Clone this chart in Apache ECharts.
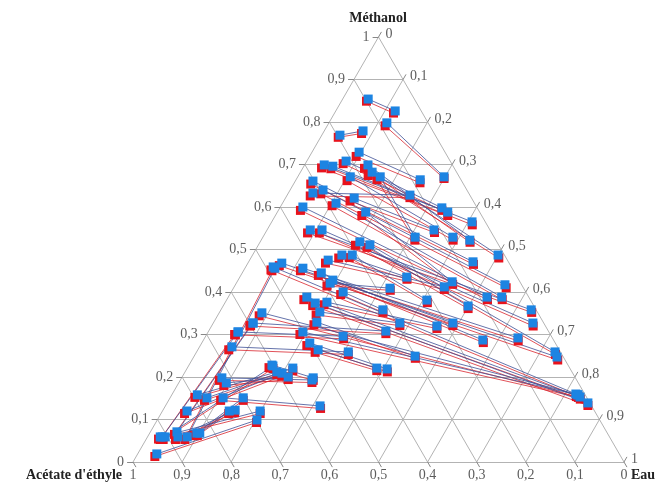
<!DOCTYPE html>
<html><head><meta charset="utf-8">
<script src="https://cdn.jsdelivr.net/npm/echarts/dist/echarts.min.js"></script>
<style>html,body{margin:0;padding:0;background:#fff}#c{width:658px;height:489px}</style>
</head><body><div id="c"></div>
<script>
// Ternary values: [Méthanol, Eau] (Acétate d'éthyle = 1 - Méthanol - Eau)
const tickValues = [0,0.1,0.2,0.3,0.4,0.5,0.6,0.7,0.8,0.9,1];
const tickLabels = ['0','0,1','0,2','0,3','0,4','0,5','0,6','0,7','0,8','0,9','1'];
const axisNames = ['Méthanol', "Acétate d'éthyle", 'Eau'];

// calculated (blue) – organic-end and aqueous-end of each tie line
const calcOrg = [
[0.854,0.052],[0.769,0.037],[0.798,0.118],[0.729,0.096],[0.708,0.080],[0.699,0.040],[0.696,0.059],[0.699,0.129],
[0.682,0.146],[0.671,0.107],[0.661,0.036],[0.640,0.067],[0.600,0.046],[0.609,0.109],[0.621,0.140],[0.588,0.180],
[0.546,0.088],[0.546,0.112],[0.518,0.203],[0.511,0.227],[0.468,0.069],[0.459,0.056],[0.456,0.118],[0.445,0.161],
[0.475,0.160],[0.487,0.182],[0.487,0.203],[0.428,0.193],[0.388,0.160],[0.374,0.184],[0.376,0.207],[0.353,0.204],
[0.329,0.210],[0.400,0.228],[0.421,0.191],[0.306,0.193],[0.280,0.220],[0.264,0.245],[0.351,0.087],[0.327,0.081],
[0.306,0.061],[0.271,0.066],[0.228,0.169],[0.633,0.050],[0.671,0.168],[0.019,0.039],[0.059,0.030],[0.071,0.054],
[0.059,0.081],[0.068,0.096],[0.120,0.050],[0.158,0.052],[0.151,0.075],[0.151,0.108],[0.198,0.082],[0.186,0.097],
[0.059,0.036],[0.059,0.026],[0.059,0.062],[0.068,0.102]
];
const calcAq = [
[0.826,0.121],[0.779,0.079],[0.671,0.298],[0.664,0.253],[0.598,0.330],[0.588,0.347],[0.565,0.408],[0.522,0.425],
[0.487,0.500],[0.529,0.387],[0.471,0.457],[0.417,0.549],[0.388,0.527],[0.388,0.557],[0.546,0.340],[0.424,0.438],
[0.358,0.632],[0.327,0.651],[0.367,0.499],[0.259,0.730],[0.247,0.740],[0.158,0.827],[0.292,0.638],[0.287,0.569],
[0.412,0.428],[0.435,0.340],[0.381,0.408],[0.327,0.488],[0.153,0.834],[0.139,0.857],[0.320,0.459],[0.327,0.380],
[0.249,0.450],[0.358,0.330],[0.409,0.319],[0.158,0.827],[0.219,0.408],[0.221,0.386],[0.160,0.822],[0.308,0.361],
[0.296,0.280],[0.259,0.309],[0.198,0.268],[0.628,0.250],[0.529,0.310],[0.099,0.203],[0.306,0.061],[0.327,0.081],
[0.456,0.061],[0.151,0.149],[0.209,0.199],[0.212,0.187],[0.221,0.215],[0.132,0.315],[0.193,0.268],[0.200,0.216],
[0.226,0.172],[0.120,0.199],[0.122,0.147],[0.120,0.136]
];
// experimental (red)
const expOrg = [
[0.849,0.051],[0.764,0.036],[0.791,0.118],[0.719,0.095],[0.702,0.077],[0.692,0.038],[0.690,0.058],[0.691,0.126],
[0.674,0.142],[0.662,0.105],[0.654,0.035],[0.631,0.067],[0.592,0.045],[0.603,0.104],[0.614,0.135],[0.580,0.176],
[0.539,0.086],[0.539,0.110],[0.510,0.198],[0.505,0.224],[0.462,0.067],[0.452,0.055],[0.450,0.116],[0.439,0.158],
[0.468,0.158],[0.480,0.179],[0.481,0.200],[0.422,0.190],[0.382,0.157],[0.368,0.182],[0.370,0.204],[0.346,0.200],
[0.323,0.207],[0.394,0.226],[0.414,0.188],[0.300,0.190],[0.274,0.217],[0.258,0.242],[0.344,0.085],[0.320,0.078],
[0.299,0.059],[0.264,0.063],[0.222,0.166],[0.626,0.048],[0.664,0.165],[0.013,0.038],[0.053,0.029],[0.065,0.052],
[0.053,0.079],[0.062,0.094],[0.114,0.048],[0.152,0.050],[0.145,0.073],[0.145,0.106],[0.192,0.080],[0.180,0.095],
[0.053,0.035],[0.054,0.025],[0.053,0.060],[0.062,0.100]
];
const expAq = [
[0.821,0.120],[0.773,0.079],[0.667,0.300],[0.657,0.256],[0.592,0.333],[0.580,0.351],[0.558,0.412],[0.517,0.428],
[0.480,0.505],[0.522,0.391],[0.465,0.461],[0.410,0.555],[0.382,0.531],[0.382,0.561],[0.540,0.344],[0.418,0.442],
[0.352,0.636],[0.320,0.655],[0.361,0.502],[0.253,0.734],[0.240,0.745],[0.153,0.831],[0.285,0.642],[0.281,0.573],
[0.406,0.431],[0.430,0.343],[0.375,0.412],[0.321,0.491],[0.148,0.837],[0.133,0.860],[0.314,0.462],[0.321,0.383],
[0.244,0.453],[0.352,0.333],[0.404,0.322],[0.152,0.831],[0.212,0.412],[0.215,0.389],[0.154,0.826],[0.302,0.364],
[0.290,0.284],[0.253,0.312],[0.192,0.271],[0.622,0.253],[0.522,0.313],[0.093,0.205],[0.300,0.057],[0.321,0.079],
[0.450,0.058],[0.145,0.152],[0.202,0.202],[0.206,0.190],[0.215,0.218],[0.126,0.319],[0.187,0.271],[0.194,0.219],
[0.220,0.175],[0.114,0.202],[0.116,0.149],[0.114,0.138]
];

function tern(m, w) { return [w + m / 2, m]; }

const gridLines = [];
tickValues.forEach(v => {
  gridLines.push({coords: [tern(v, 0), tern(v, 1 - v)]});
  gridLines.push({coords: [tern(0, v), tern(1 - v, v)]});
  gridLines.push({coords: [tern(0, 1 - v), tern(1 - v, 0)]});
});
const T = 0.012;
const ticks = [];
const leftLab = [], rightLab = [], botLab = [];
tickValues.forEach((v, i) => {
  ticks.push({coords: [tern(v, 0), tern(v, -T)]});
  ticks.push({coords: [tern(1 - v, v), tern(1 - v + T, v)]});
  ticks.push({coords: [tern(0, 1 - v), tern(-T, 1 - v + T)]});
  leftLab.push({value: tern(v, -T), name: tickLabels[i]});
  rightLab.push({value: tern(1 - v + T, v), name: tickLabels[i]});
  botLab.push({value: tern(0, 1 - v), name: tickLabels[i]});
});

const tie = (a, b) => a.map((p, i) => ({coords: [tern(p[0], p[1]), tern(b[i][0], b[i][1])]}));
const pts = arr => arr.map(p => tern(p[0], p[1]));

const FONT = 'Liberation Serif';
const labStyle = {show: true, formatter: '{b}', fontFamily: FONT, fontSize: 14, color: '#333'};

const chart = echarts.init(document.getElementById('c'), null, {renderer: 'canvas'});
chart.setOption({
  animation: false,
  backgroundColor: '#fff',
  grid: {left: 108.45, top: 15.75, width: 540.1, height: 467.5, containLabel: false},
  xAxis: {type: 'value', min: -0.05, max: 1.05, show: false},
  yAxis: {type: 'value', min: -0.05, max: 1.05, show: false},
  graphic: [
    {type: 'text', style: {text: axisNames[0], x: 378, y: 18, textAlign: 'center', textVerticalAlign: 'middle', font: 'bold 14px "Liberation Serif"', fill: '#222'}},
    {type: 'text', style: {text: axisNames[1], x: 122, y: 475, textAlign: 'right', textVerticalAlign: 'middle', font: 'bold 14px "Liberation Serif"', fill: '#222'}},
    {type: 'text', style: {text: axisNames[2], x: 631, y: 475, textAlign: 'left', textVerticalAlign: 'middle', font: 'bold 14px "Liberation Serif"', fill: '#222'}}
  ],
  series: [
    {type: 'lines', coordinateSystem: 'cartesian2d', silent: true, z: 1, data: gridLines,
     lineStyle: {color: '#b3b3b3', width: 1, opacity: 1}},
    {type: 'lines', coordinateSystem: 'cartesian2d', silent: true, z: 1, data: ticks,
     lineStyle: {color: '#888', width: 1, opacity: 1}},
    {type: 'lines', coordinateSystem: 'cartesian2d', silent: true, z: 2, data: tie(expOrg, expAq),
     lineStyle: {color: '#d9262e', width: 0.8, opacity: 1}},
    {type: 'lines', coordinateSystem: 'cartesian2d', silent: true, z: 2, data: tie(calcOrg, calcAq),
     lineStyle: {color: '#3d4f96', width: 0.8, opacity: 1}},
    {type: 'scatter', z: 3, symbol: 'rect', symbolSize: 9, data: pts(expOrg).concat(pts(expAq)),
     itemStyle: {color: '#e8121c', opacity: 1}},
    {type: 'scatter', z: 4, symbol: 'rect', symbolSize: 9, data: pts(calcOrg).concat(pts(calcAq)),
     itemStyle: {color: '#1d84e2', opacity: 1}},
    {type: 'scatter', z: 5, symbolSize: 0, silent: true, data: leftLab,
     label: Object.assign({position: 'left', distance: 3}, labStyle)},
    {type: 'scatter', z: 5, symbolSize: 0, silent: true, data: rightLab,
     label: Object.assign({position: 'right', distance: 4, offset: [0, 2]}, labStyle)},
    {type: 'scatter', z: 5, symbolSize: 0, silent: true, data: botLab,
     label: Object.assign({position: 'bottom', distance: 6}, labStyle)}
  ]
});
</script></body></html>
